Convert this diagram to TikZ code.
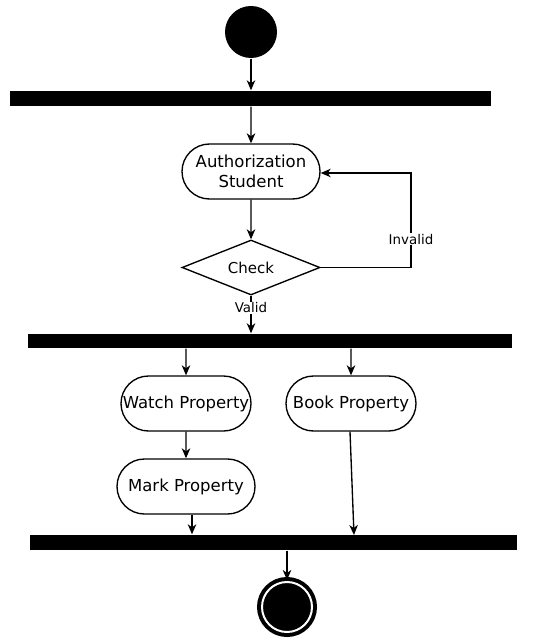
\documentclass[tikz,border=0pt]{standalone}
\usepackage{fontspec}
\setmainfont{DejaVu Sans}
\usetikzlibrary{shapes.geometric,shapes.misc,arrows.meta}
\begin{document}
\begin{tikzpicture}[x=1pt,y=-1pt,
  every path/.style={line width=1.35pt},
  arr/.style={-{Stealth[length=10pt,width=8.5pt,inset=3pt]}},
  bar/.style={fill=black,draw=none,inner sep=0pt},
  act/.style={draw,rounded rectangle,minimum height=55pt,align=center,font=\fontsize{16.5}{20}\selectfont,inner sep=0pt},
  lbl/.style={fill=white,font=\fontsize{13.4}{15}\selectfont,inner sep=1pt}]
\useasboundingbox (0,0) rectangle (543,644);
\node[circle,fill=black,minimum size=52pt,inner sep=0pt] (start) at (251,32) {};
\node[bar,minimum width=481pt,minimum height=15pt] (b1) at (250.5,98.5) {};
\node[act,minimum width=138pt] (auth) at (251,171.5) {Authorization\\Student};
\node[draw,diamond,aspect=2.5,minimum width=138pt,minimum height=55pt,inner sep=0pt,font=\fontsize{15}{17}\selectfont] (check) at (251,267.5) {Check};
\node[bar,minimum width=484pt,minimum height=14pt] (b2) at (270,341) {};
\node[act,minimum width=130pt] (watch) at (186,403.5) {Watch Property};
\node[act,minimum width=130pt] (book) at (351,403.5) {Book Property};
\node[act,minimum width=138pt] (mark) at (186,486.5) {Mark Property};
\node[bar,minimum width=487pt,minimum height=15pt] (b3) at (273.5,542.5) {};
\node[circle,fill=black,draw=black,line width=4pt,double=white,double distance=2pt,minimum size=50pt,inner sep=0pt] (end) at (287,607) {};
\coordinate (inv) at (411,267.5);
\coordinate (inv2) at (411,173);
\coordinate (bookin) at (354,535);
\draw[arr] (start) -- (start|-b1.north);
\draw[arr] (auth|-b1.south) -- (auth);
\draw[arr] (auth) -- (check);
\draw[arr] (check.east) -- (inv) -- node[lbl,pos=0.3]{Invalid} (inv2) -- (auth.east|-inv2);
\draw[arr] (check.south) -- node[lbl,pos=0.32]{Valid} (check.south|-b2.north);
\draw[arr] (watch|-b2.south) -- (watch);
\draw[arr] (book|-b2.south) -- (book);
\draw[arr] (watch) -- (mark);
\draw[arr] ([xshift=6pt]mark.south) -- ([xshift=6pt]mark.south|-b3.north);
\draw[arr] ([xshift=-1pt]book.south) -- (bookin);
\draw[arr] (end|-b3.south) -- (end);
\end{tikzpicture}
\end{document}
